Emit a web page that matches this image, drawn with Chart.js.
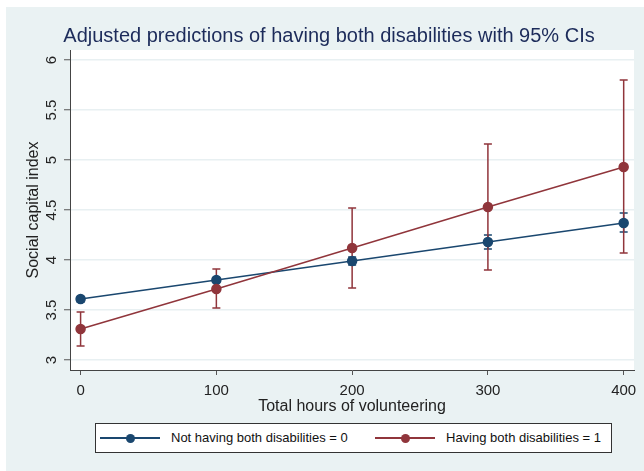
<!DOCTYPE html>
<html>
<head>
<meta charset="utf-8">
<title>Adjusted predictions</title>
<script src="https://cdn.jsdelivr.net/npm/chart.js@4.4.0/dist/chart.umd.min.js"></script>
<style>
  html, body { margin: 0; padding: 0; background: #fff; }
  #wrap { position: relative; width: 644px; height: 471px; }
  #legend {
    position: absolute; left: 95px; top: 423px; width: 515px; height: 28px;
    border: 1px solid #333; background: #fff;
    font: 13px 'Liberation Sans', Arial, sans-serif; color: #111;
  }
  .item { position: absolute; top: 0; height: 28px; }
  .swatch { position: absolute; top: 13px; width: 60px; height: 2px; }
  .dot { position: absolute; top: 9.5px; left: 25.5px; width: 9px; height: 9px; border-radius: 50%; }
  .label { position: absolute; left: 71px; top: 6px; white-space: nowrap; }
</style>
</head>
<body>
<div id="wrap">
  <canvas id="chart" width="644" height="471"></canvas>
  <div id="legend"></div>
</div>
<script>
// data
const hours = [0, 100, 200, 300, 400];
const xTicks = [0, 100, 200, 300, 400];
const yTicks = [3, 3.5, 4, 4.5, 5, 5.5, 6];

const notBoth = [3.61, 3.80, 3.99, 4.18, 4.37];
const notBothLo = [3.58, 3.78, 3.95, 4.11, 4.28];
const notBothHi = [3.63, 3.82, 4.03, 4.25, 4.47];

const both = [3.31, 3.71, 4.12, 4.53, 4.93];
const bothLo = [3.14, 3.52, 3.72, 3.90, 4.07];
const bothHi = [3.48, 3.91, 4.52, 5.16, 5.80];

const seriesNames = ['Not having both disabilities = 0', 'Having both disabilities = 1'];
const colors = ['#1a476f', '#90353b'];
const ciLo = [notBothLo, bothLo];
const ciHi = [notBothHi, bothHi];

const FONT = "'Liberation Sans', Arial, sans-serif";
Chart.defaults.font.family = FONT;
Chart.defaults.color = '#222';

// Stata-like backgrounds
const background = {
  id: 'background',
  beforeDraw(chart) {
    const { ctx, chartArea: a } = chart;
    ctx.save();
    ctx.fillStyle = '#fff';
    ctx.fillRect(0, 0, chart.width, chart.height);
    ctx.fillStyle = '#eaf2f3';
    ctx.fillRect(6, 7, chart.width - 6, chart.height - 7);
    ctx.fillStyle = '#fff';
    ctx.fillRect(a.left, a.top, a.right - a.left, a.bottom - a.top);
    ctx.restore();
  }
};

// confidence interval caps
const errorBars = {
  id: 'errorBars',
  beforeDatasetsDraw(chart) {
    const { ctx, scales: { x, y } } = chart;
    ctx.save();
    ctx.lineWidth = 1.5;
    chart.data.datasets.forEach((ds, i) => {
      ctx.strokeStyle = colors[i];
      hours.forEach((h, j) => {
        const px = x.getPixelForValue(h);
        const lo = y.getPixelForValue(ciLo[i][j]);
        const hi = y.getPixelForValue(ciHi[i][j]);
        ctx.beginPath();
        ctx.moveTo(px, lo); ctx.lineTo(px, hi);
        ctx.moveTo(px - 4, lo); ctx.lineTo(px + 4, lo);
        ctx.moveTo(px - 4, hi); ctx.lineTo(px + 4, hi);
        ctx.stroke();
      });
    });
    ctx.restore();
  }
};

new Chart(document.getElementById('chart'), {
  type: 'line',
  data: {
    datasets: [notBoth, both].map((vals, i) => ({
      label: seriesNames[i],
      data: hours.map((h, j) => ({ x: h, y: vals[j] })),
      borderColor: colors[i],
      backgroundColor: colors[i],
      borderWidth: 1.5,
      pointRadius: 4.5,
      pointHoverRadius: 4.5,
      tension: 0,
      order: 1 - i
    }))
  },
  options: {
    responsive: false,
    animation: false,
    devicePixelRatio: 1,
    layout: { padding: { left: 24, right: 10, top: 7, bottom: 55 } },
    plugins: {
      legend: { display: false },
      tooltip: { enabled: false },
      title: {
        display: true,
        text: 'Adjusted predictions of having both disabilities with 95% CIs',
        color: '#1c2b5a',
        font: { size: 20, weight: 'normal', lineHeight: 1.2 },
        padding: { top: 17, bottom: 2 }
      }
    },
    scales: {
      x: {
        type: 'linear',
        min: -7.8,
        max: 407.6,
        afterBuildTicks: s => { s.ticks = xTicks.map(v => ({ value: v })); },
        afterFit: s => { s.height = 46; s.paddingLeft = 0; s.paddingRight = 0; },
        ticks: { font: { size: 15 }, color: '#222', padding: 7, maxRotation: 0 },
        grid: { drawOnChartArea: false, tickLength: 5, color: '#555', lineWidth: 1 },
        border: { display: true, color: '#444', width: 1 },
        title: {
          display: true, text: 'Total hours of volunteering', color: '#222',
          font: { size: 16 }, padding: { top: 0, bottom: 0 }
        }
      },
      y: {
        min: 2.9,
        max: 6.1,
        afterBuildTicks: s => { s.ticks = yTicks.map(v => ({ value: v })); },
        afterFit: s => { s.width = 46; s.paddingTop = 0; s.paddingBottom = 0; },
        ticks: {
          font: { size: 15 }, color: '#222', padding: 2,
          minRotation: 90, maxRotation: 90, crossAlign: 'center',
          callback: v => String(v)
        },
        grid: { color: '#e8f0f2', lineWidth: 1.5, tickLength: 6, tickColor: '#555', tickWidth: 1 },
        border: { display: true, color: '#444', width: 1 },
        title: {
          display: true, text: 'Social capital index', color: '#222',
          font: { size: 16 }, padding: { top: 0, bottom: 0 }
        }
      }
    }
  },
  plugins: [background, errorBars]
});

// legend with line + marker keys
const legend = document.getElementById('legend');
const itemLeft = [4, 279];
seriesNames.forEach((name, i) => {
  const item = document.createElement('div');
  item.className = 'item';
  item.style.left = itemLeft[i] + 'px';
  item.innerHTML =
    '<div class="swatch" style="background:' + colors[i] + '"></div>' +
    '<div class="dot" style="background:' + colors[i] + '"></div>' +
    '<div class="label">' + name + '</div>';
  legend.appendChild(item);
});
</script>
</body>
</html>
